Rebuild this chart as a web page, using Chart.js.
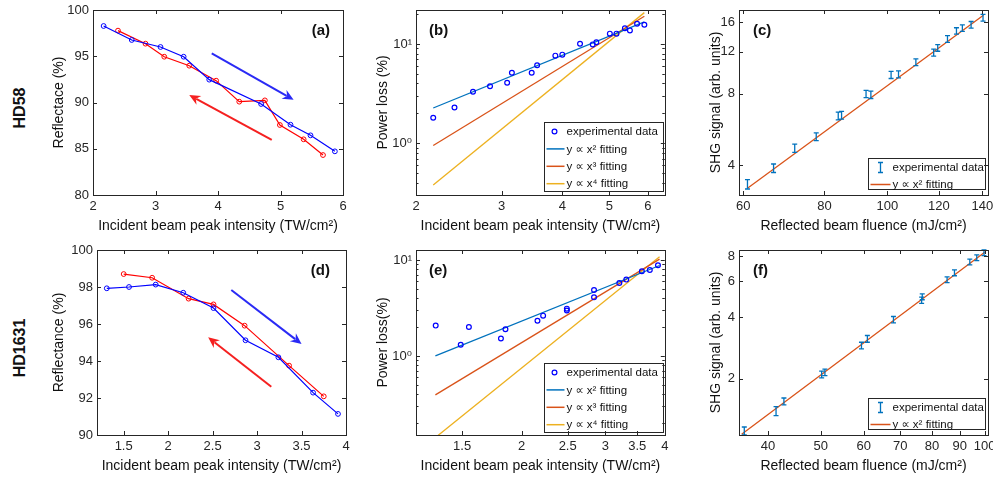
<!DOCTYPE html>
<html>
<head>
<meta charset="utf-8">
<script src="https://cdn.jsdelivr.net/npm/chart.js@4.4.1/dist/chart.umd.min.js"></script>
<style>
  body { margin: 0; background: #fff; }
  #wrap { position: relative; width: 993px; height: 478px; overflow: hidden; }
  canvas { position: absolute; }
  .row {
    position: absolute; font: bold 16px 'Liberation Sans', Arial, sans-serif; color: #111;
    transform: translate(-50%, -50%) rotate(-90deg); white-space: nowrap;
  }
</style>
</head>
<body>
<div id="wrap">
  <div class="row" style="left:20px; top:108px">HD58</div>
  <div class="row" style="left:20px; top:348px">HD1631</div>
  <canvas id="ca"></canvas>
  <canvas id="cb"></canvas>
  <canvas id="cc"></canvas>
  <canvas id="cd"></canvas>
  <canvas id="ce"></canvas>
  <canvas id="cf"></canvas>
</div>
<script>
// ---- (a) HD58 reflectance, up / down scans
var aUpX = [2.17, 2.62, 3.08, 3.45, 3.86, 4.69, 5.16, 5.48, 5.87];
var aUpY = [98.27, 96.76, 96.0, 94.95, 92.47, 89.84, 87.6, 86.45, 84.72];
var aDownX = [2.40, 2.84, 3.14, 3.54, 3.97, 4.34, 4.75, 4.99, 5.37, 5.68];
var aDownY = [97.77, 96.36, 94.95, 93.98, 92.36, 90.09, 90.23, 87.57, 86.02, 84.32];
var aBlueArrow = [3.90, 95.3, 5.21, 90.3];
var aRedArrow = [4.86, 85.95, 3.54, 90.8];
var aXTicks = [2, 3, 4, 5, 6];
var aYTicks = [80, 85, 90, 95, 100];

// ---- (b) HD58 power loss
var bX = [2.17, 2.40, 2.62, 2.84, 3.08, 3.15, 3.46, 3.55, 3.87, 4.00, 4.35, 4.62, 4.70, 5.01, 5.17, 5.38, 5.51, 5.70, 5.90];
var bY = [1.80, 2.29, 3.30, 3.74, 4.07, 5.13, 5.13, 6.09, 7.62, 7.80, 10.05, 9.9, 10.4, 12.7, 12.7, 14.4, 13.7, 16.0, 15.6];
var bFitX = [2.17, 5.90];
var bFit2 = [2.26, 16.7];
var bFit3 = [0.947, 19.0];
var bFit4 = [0.379, 20.7];
var bXTicks = [2, 3, 4, 5, 6];
var bYTicks = [1, 10];
var bYMinor = [0.3, 0.4, 0.5, 0.6, 0.7, 0.8, 0.9, 2, 3, 4, 5, 6, 7, 8, 9, 20];

// ---- (c) HD58 SHG
var cX = [60.9, 66.8, 72.0, 77.7, 84.0, 85.0, 92.7, 94.3, 101.3, 104.0, 110.6, 117.8, 119.5, 123.7, 127.7, 130.4, 134.5, 140.3];
var cY = [3.33, 3.89, 4.72, 5.28, 6.45, 6.50, 7.98, 7.92, 9.60, 9.66, 10.86, 11.92, 12.47, 13.6, 14.7, 15.1, 15.6, 16.7];
var cErr = [0.15, 0.16, 0.19, 0.2, 0.24, 0.24, 0.28, 0.28, 0.33, 0.33, 0.36, 0.4, 0.4, 0.44, 0.46, 0.48, 0.5, 0.54];
var cFitX = [60.9, 140.5];
var cFit = [3.2, 17.1];
var cXTicks = [60, 80, 100, 120, 140];
var cYTicks = [4, 8, 12, 16];

// ---- (d) HD1631 reflectance
var dUpX = [1.31, 1.56, 1.86, 2.17, 2.51, 2.87, 3.24, 3.63, 3.91];
var dUpY = [97.93, 98.0, 98.13, 97.69, 96.86, 95.12, 94.2, 92.29, 91.14];
var dDownX = [1.50, 1.82, 2.23, 2.51, 2.86, 3.36, 3.75];
var dDownY = [98.7, 98.5, 97.37, 97.06, 95.91, 93.75, 92.09];
var dBlueArrow = [2.71, 97.84, 3.50, 94.92];
var dRedArrow = [3.16, 92.61, 2.45, 95.28];
var dXTicks = [1.5, 2, 2.5, 3, 3.5, 4];
var dYTicks = [90, 92, 94, 96, 98, 100];

// ---- (e) HD1631 power loss
var eX = [1.32, 1.49, 1.55, 1.81, 1.85, 2.16, 2.22, 2.49, 2.49, 2.84, 2.84, 3.21, 3.32, 3.58, 3.72, 3.87];
var eY = [2.07, 1.31, 2.00, 1.52, 1.90, 2.33, 2.63, 3.11, 2.97, 4.87, 4.08, 5.76, 6.24, 7.63, 7.86, 8.8];
var eFitX = [1.318, 3.90];
var eFit2 = [1.0, 8.76];
var eFit3 = [0.393, 10.2];
var eFit4 = [0.141, 10.8];
var eXTicks = [1.5, 2, 2.5, 3, 3.5, 4];
var eYTicks = [1, 10];
var eYMinor = [0.2, 0.3, 0.4, 0.5, 0.6, 0.7, 0.8, 0.9, 2, 3, 4, 5, 6, 7, 8, 9];

// ---- (f) HD1631 SHG
var fX = [36.2, 41.4, 42.8, 50.2, 50.9, 59.4, 60.9, 68.0, 76.6, 76.8, 85.3, 88.0, 93.9, 96.7, 99.7];
var fY = [1.11, 1.39, 1.55, 2.10, 2.15, 2.91, 3.14, 3.90, 4.86, 5.05, 6.12, 6.62, 7.48, 7.85, 8.30];
var fErr = [0.05, 0.07, 0.06, 0.08, 0.08, 0.11, 0.12, 0.14, 0.17, 0.17, 0.2, 0.22, 0.24, 0.25, 0.26];
var fFitX = [35.8, 100];
var fFit = [1.07, 8.35];
var fXTicks = [40, 50, 60, 70, 80, 90, 100];
var fYTicks = [2, 4, 6, 8];

var FONT = "'Liberation Sans', 'DejaVu Sans', Arial, sans-serif";
var INK = "#262626";
var TITLE = 14;
Chart.defaults.font.family = FONT;
Chart.defaults.font.size = 13;
Chart.defaults.color = INK;

var intensity = "Incident beam peak intensity (TW/cm²)";
var fluence = "Reflected beam fluence (mJ/cm²)";

function pts(xs, ys) {
  return xs.map(function (x, i) { return { x: x, y: ys[i] }; });
}
function plain(v) { return String(v); }
function decades(v) { return v === 1 ? "10⁰" : v === 10 ? "10¹" : ""; }

// box + inward tick marks on all four sides
function frame(xMinor, yMinor) {
  return {
    id: "frame",
    afterDraw: function (chart) {
      var ctx = chart.ctx, a = chart.chartArea, sx = chart.scales.x, sy = chart.scales.y;
      ctx.save();
      ctx.strokeStyle = INK;
      ctx.lineWidth = 1;
      ctx.beginPath();
      function xs(vals, len) {
        vals.forEach(function (v) {
          var p = Math.round(sx.getPixelForValue(v)) + 0.5;
          if (p < a.left || p > a.right + 1) return;
          ctx.moveTo(p, a.bottom); ctx.lineTo(p, a.bottom - len);
          ctx.moveTo(p, a.top); ctx.lineTo(p, a.top + len);
        });
      }
      function ys(vals, len) {
        vals.forEach(function (v) {
          var p = Math.round(sy.getPixelForValue(v)) + 0.5;
          if (p < a.top || p > a.bottom + 1) return;
          ctx.moveTo(a.left, p); ctx.lineTo(a.left + len, p);
          ctx.moveTo(a.right, p); ctx.lineTo(a.right - len, p);
        });
      }
      xs(sx.ticks.map(function (t) { return t.value; }), 4);
      ys(sy.ticks.map(function (t) { return t.value; }), 4);
      xs(xMinor || [], 2.5);
      ys(yMinor || [], 2.5);
      ctx.stroke();
      ctx.strokeRect(Math.round(a.left) + 0.5, Math.round(a.top) + 0.5,
        Math.round(a.right - a.left), Math.round(a.bottom - a.top));
      ctx.restore();
    }
  };
}

function tag(text, side, dx, dy) {
  return {
    id: "tag",
    afterDraw: function (chart) {
      var ctx = chart.ctx, a = chart.chartArea;
      ctx.save();
      ctx.font = "bold 15px " + FONT;
      ctx.fillStyle = "#111";
      ctx.textBaseline = "middle";
      ctx.textAlign = side;
      ctx.fillText(text, side === "left" ? a.left + dx : a.right - dx, a.top + dy);
      ctx.restore();
    }
  };
}

function arrows(list) {
  return {
    id: "arrows",
    afterDatasetsDraw: function (chart) {
      var ctx = chart.ctx, sx = chart.scales.x, sy = chart.scales.y;
      ctx.save();
      list.forEach(function (ar) {
        var v = ar[0];
        var x1 = sx.getPixelForValue(v[0]), y1 = sy.getPixelForValue(v[1]);
        var x2 = sx.getPixelForValue(v[2]), y2 = sy.getPixelForValue(v[3]);
        var ang = Math.atan2(y2 - y1, x2 - x1), L = 11, W = 5;
        var bx = x2 - L * Math.cos(ang), by = y2 - L * Math.sin(ang);
        ctx.strokeStyle = ar[1];
        ctx.fillStyle = ar[1];
        ctx.lineWidth = 2;
        ctx.beginPath();
        ctx.moveTo(x1, y1);
        ctx.lineTo(bx + 3 * Math.cos(ang), by + 3 * Math.sin(ang));
        ctx.stroke();
        ctx.beginPath();
        ctx.moveTo(x2, y2);
        ctx.lineTo(bx + W * Math.sin(ang), by - W * Math.cos(ang));
        ctx.lineTo(bx + 3.5 * Math.cos(ang), by + 3.5 * Math.sin(ang));
        ctx.lineTo(bx - W * Math.sin(ang), by + W * Math.cos(ang));
        ctx.closePath();
        ctx.fill();
      });
      ctx.restore();
    }
  };
}

function errBars(errs, color) {
  return {
    id: "errbars",
    afterDatasetsDraw: function (chart) {
      var ctx = chart.ctx, sx = chart.scales.x, sy = chart.scales.y;
      var d = chart.data.datasets[0].data;
      ctx.save();
      ctx.strokeStyle = color;
      ctx.lineWidth = 1.3;
      ctx.beginPath();
      d.forEach(function (p, i) {
        var px = sx.getPixelForValue(p.x);
        var y1 = sy.getPixelForValue(p.y - errs[i]), y2 = sy.getPixelForValue(p.y + errs[i]);
        ctx.moveTo(px, y1); ctx.lineTo(px, y2);
        ctx.moveTo(px - 2.5, y1); ctx.lineTo(px + 2.5, y1);
        ctx.moveTo(px - 2.5, y2); ctx.lineTo(px + 2.5, y2);
      });
      ctx.stroke();
      ctx.restore();
    }
  };
}

// legend box inside the plot, bottom-right
function legendBox(s) {
  return {
    id: "legendbox",
    afterDraw: function (chart) {
      var ctx = chart.ctx, a = chart.chartArea;
      var bx = Math.round(a.right - s.right - s.w) + 0.5, by = Math.round(a.bottom - s.bottom - s.h) + 0.5;
      ctx.save();
      ctx.fillStyle = "#fff";
      ctx.fillRect(bx, by, s.w, s.h);
      ctx.strokeStyle = INK;
      ctx.lineWidth = 1;
      ctx.strokeRect(bx, by, s.w, s.h);
      ctx.font = "11.5px " + FONT;
      ctx.textBaseline = "middle";
      ctx.textAlign = "left";
      chart.data.datasets.forEach(function (ds, i) {
        var cy = by + s.first + i * s.rowH;
        ctx.strokeStyle = ds.borderColor;
        if (ds.kind === "line") {
          ctx.lineWidth = 1.5;
          ctx.beginPath(); ctx.moveTo(bx + s.symL, cy); ctx.lineTo(bx + s.symR, cy); ctx.stroke();
        } else if (ds.kind === "marker") {
          ctx.lineWidth = 1.2;
          ctx.beginPath(); ctx.arc(bx + s.mark, cy, 2.4, 0, Math.PI * 2); ctx.stroke();
        } else {
          ctx.lineWidth = 1.3;
          ctx.beginPath();
          ctx.moveTo(bx + s.mark, cy - 5); ctx.lineTo(bx + s.mark, cy + 5);
          ctx.moveTo(bx + s.mark - 2.5, cy - 5); ctx.lineTo(bx + s.mark + 2.5, cy - 5);
          ctx.moveTo(bx + s.mark - 2.5, cy + 5); ctx.lineTo(bx + s.mark + 2.5, cy + 5);
          ctx.stroke();
        }
        ctx.fillStyle = "#111";
        ctx.fillText(ds.label, bx + s.textX, cy + 0.5);
      });
      ctx.restore();
    }
  };
}

function axis(type, min, max, ticks, fmt, title, pad) {
  return {
    type: type, min: min, max: max, bounds: "data",
    grid: { display: false, drawTicks: false },
    border: { display: false },
    afterBuildTicks: function (s) { s.ticks = ticks.map(function (v) { return { value: v }; }); },
    ticks: { autoSkip: false, maxRotation: 0, minRotation: 0, padding: 4, callback: fmt },
    title: { display: true, text: title, color: "#111", font: { size: TITLE }, padding: pad }
  };
}

// rect: canvas [left, top, w, h]; area: plot [l, t, r, b]
function panel(id, rect, area, yTitleX, xTitleY, o) {
  var cv = document.getElementById(id);
  cv.width = rect[2];
  cv.height = rect[3];
  cv.style.left = rect[0] + "px";
  cv.style.top = rect[1] + "px";
  var half = TITLE * 1.2 / 2;
  var x = axis(o.xType, o.xMin, o.xMax, o.xTicks, plain, o.xTitle,
    { top: 0, bottom: rect[1] + rect[3] - xTitleY - half });
  var y = axis(o.yType, o.yMin, o.yMax, o.yTicks, o.yFmt || plain, o.yTitle,
    { top: yTitleX - rect[0] - half, bottom: 0 });
  x.afterFit = function (s) { s.height = rect[1] + rect[3] - area[3]; s.paddingLeft = 0; s.paddingRight = 0; };
  y.afterFit = function (s) { s.width = area[0] - rect[0]; s.paddingTop = 0; s.paddingBottom = 0; };
  new Chart(cv, {
    type: "scatter",
    data: { datasets: o.datasets },
    options: {
      responsive: false,
      animation: false,
      layout: { padding: { left: 0, top: area[1] - rect[1], right: rect[0] + rect[2] - area[2], bottom: 0 } },
      scales: { x: x, y: y },
      plugins: { legend: { display: false }, tooltip: { enabled: false } }
    },
    plugins: o.plugins
  });
}

function scan(data, color) {
  return {
    data: data, showLine: true, borderColor: color, borderWidth: 1.2,
    pointRadius: 2.4, pointBorderWidth: 1, pointBorderColor: color,
    pointBackgroundColor: "rgba(0,0,0,0)"
  };
}
function fitLine(label, data, color) {
  return { label: label, kind: "line", data: data, showLine: true, borderColor: color, borderWidth: 1.3, pointRadius: 0 };
}
function dots(label, data, color) {
  return {
    label: label, kind: "marker", data: data, showLine: false, borderColor: color,
    pointRadius: 2.4, pointBorderWidth: 1.2, pointBorderColor: color, pointBackgroundColor: "rgba(0,0,0,0)"
  };
}
function bars(label, data, color) {
  return { label: label, kind: "err", data: data, showLine: false, borderColor: color, pointRadius: 0 };
}

var BLUE = "#0072BD", ORANGE = "#D95319", YELLOW = "#EDB120";
var lossLegend = { right: 2, bottom: 4, w: 119, h: 69, first: 9, rowH: 17.4, symL: 2, symR: 20, mark: 10, textX: 22 };
var shgLegend = { right: 3, bottom: 6, w: 117, h: 31, first: 9, rowH: 17, symL: 2, symR: 22, mark: 12, textX: 24 };

panel("ca", [28, 0, 327, 240], [93, 10, 343, 195], 59, 226, {
  xType: "linear", xMin: 2, xMax: 6, xTicks: aXTicks, xTitle: intensity,
  yType: "linear", yMin: 80, yMax: 100, yTicks: aYTicks, yTitle: "Reflectace (%)",
  datasets: [scan(pts(aUpX, aUpY), "#0000ff"), scan(pts(aDownX, aDownY), "#ff0000")],
  plugins: [arrows([[aBlueArrow, "#2a2af5"], [aRedArrow, "#f52020"]]), tag("(a)", "right", 13, 21), frame()]
});

panel("cb", [360, 0, 310, 240], [416, 10, 667, 195], 383, 226, {
  xType: "logarithmic", xMin: 2, xMax: 6.5, xTicks: bXTicks, xTitle: intensity,
  yType: "logarithmic", yMin: 0.3, yMax: 22, yTicks: bYTicks, yFmt: decades, yTitle: "Power loss (%)",
  datasets: [
    dots("experimental data", pts(bX, bY), "#0000ff"),
    fitLine("y ∝ x² fitting", pts(bFitX, bFit2), BLUE),
    fitLine("y ∝ x³ fitting", pts(bFitX, bFit3), ORANGE),
    fitLine("y ∝ x⁴ fitting", pts(bFitX, bFit4), YELLOW)
  ],
  plugins: [legendBox(lossLegend), tag("(b)", "left", 13, 21), frame([], bYMinor)]
});

panel("cc", [680, 0, 313, 240], [739, 10, 988, 195], 716, 226, {
  xType: "logarithmic", xMin: 59.1, xMax: 142.8, xTicks: cXTicks, xTitle: fluence,
  yType: "logarithmic", yMin: 3.0, yMax: 18.0, yTicks: cYTicks, yTitle: "SHG signal (arb. units)",
  datasets: [
    bars("experimental data", pts(cX, cY), BLUE),
    fitLine("y ∝ x² fitting", pts(cFitX, cFit), ORANGE)
  ],
  plugins: [errBars(cErr, BLUE), legendBox(shgLegend), tag("(c)", "left", 14, 21), frame()]
});

panel("cd", [28, 240, 327, 238], [97, 250, 346, 435], 59, 466, {
  xType: "linear", xMin: 1.2, xMax: 4, xTicks: dXTicks, xTitle: intensity,
  yType: "linear", yMin: 90, yMax: 100, yTicks: dYTicks, yTitle: "Reflectance (%)",
  datasets: [scan(pts(dUpX, dUpY), "#0000ff"), scan(pts(dDownX, dDownY), "#ff0000")],
  plugins: [arrows([[dBlueArrow, "#2a2af5"], [dRedArrow, "#f52020"]]), tag("(d)", "right", 16, 21), frame()]
});

panel("ce", [360, 240, 310, 238], [416, 250, 667, 435], 383, 466, {
  xType: "logarithmic", xMin: 1.2, xMax: 4, xTicks: eXTicks, xTitle: intensity,
  yType: "logarithmic", yMin: 0.15, yMax: 12.7, yTicks: eYTicks, yFmt: decades, yTitle: "Power loss(%)",
  datasets: [
    dots("experimental data", pts(eX, eY), "#0000ff"),
    fitLine("y ∝ x² fitting", pts(eFitX, eFit2), BLUE),
    fitLine("y ∝ x³ fitting", pts(eFitX, eFit3), ORANGE),
    fitLine("y ∝ x⁴ fitting", pts(eFitX, eFit4), YELLOW)
  ],
  plugins: [legendBox(Object.assign({}, lossLegend, { bottom: 3 })), tag("(e)", "left", 13, 21), frame([], eYMinor)]
});

panel("cf", [680, 240, 313, 238], [739, 250, 988, 435], 716, 466, {
  xType: "logarithmic", xMin: 35.4, xMax: 101.4, xTicks: fXTicks, xTitle: fluence,
  yType: "logarithmic", yMin: 1.06, yMax: 8.56, yTicks: fYTicks, yTitle: "SHG signal (arb. units)",
  datasets: [
    bars("experimental data", pts(fX, fY), BLUE),
    fitLine("y ∝ x² fitting", pts(fFitX, fFit), ORANGE)
  ],
  plugins: [errBars(fErr, BLUE), legendBox(shgLegend), tag("(f)", "left", 14, 21), frame()]
});
</script>
</body>
</html>
